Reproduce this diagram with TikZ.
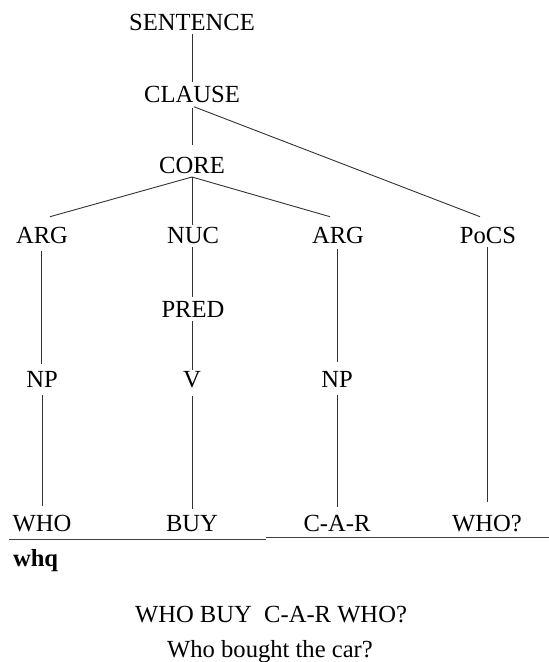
\documentclass[tikz,border=0pt]{standalone}
\usepackage{fontspec}
\setmainfont{Liberation Serif}
\begin{document}
\begin{tikzpicture}[x=1pt,y=-1pt,
  txt/.style={font=\fontsize{24.6}{30}\selectfont, inner sep=0pt, outer sep=0pt},
  cat/.style={txt, inner xsep=0pt, inner ysep=4pt, text height=16.3pt, text depth=0pt, anchor=base},
  branch/.style={line width=0.9pt, draw=black!80},
  rule/.style={line width=0.9pt, draw=black!75}]
\useasboundingbox (0,0) rectangle (549,662);
\fill[white] (0,0) rectangle (549,662);

% layered structure
\node[cat] (sent)   at (192,30)  {SENTENCE};
\node[cat] (clause) at (192,102) {CLAUSE};
\node[cat] (core)   at (192,173) {CORE};
\node[cat] (arga)   at (42,243)  {ARG};
\node[cat] (nuc)    at (193,243) {NUC};
\node[cat] (argb)   at (338,243) {ARG};
\node[cat] (pocs)   at (488,243) {PoCS};
\node[cat] (pred)   at (193,317) {PRED};
\node[cat] (npa)    at (42,387)  {NP};
\node[cat] (verb)   at (192,387) {V};
\node[cat] (npb)    at (337,387) {NP};
\node[cat] (who)    at (42,531.5)  {WHO};
\node[cat] (buy)    at (192,531.5) {BUY};
\node[cat] (car)    at (337,531.5) {C-A-R};
\node[cat] (whoq)   at (487,531.5) {WHO?};

% branches
\draw[branch] (sent.south) -- (clause.north);
\draw[branch, shorten <=2pt, shorten >=8pt] (clause.south) -- (core.north);
\draw[branch, shorten <=2pt] (clause.south) -- ([xshift=-8pt,yshift=6pt]pocs.north);
\draw[branch] (core.south) -- ([xshift=8pt,yshift=6pt]arga.north);
\draw[branch, shorten >=-2pt] (core.south) -- (core.south |- nuc.north);
\draw[branch] (core.south) -- ([xshift=-8pt,yshift=6pt]argb.north);
\draw[branch, shorten <=4pt, shorten >=3pt] ([xshift=-1pt]arga.south) -- ([xshift=-1pt]arga.south |- npa.north);
\draw[branch] ([xshift=-1pt]nuc.south) -- ([xshift=-1pt]nuc.south |- pred.north);
\draw[branch, shorten >=-3pt] ([xshift=-1pt]pred.south) -- ([xshift=-1pt]pred.south |- verb.north);
\draw[branch, shorten <=2pt, shorten >=5pt] ([xshift=-1pt]argb.south) -- ([xshift=-1pt]argb.south |- npb.north);
\draw[branch, shorten >=9pt] ([xshift=-1pt]pocs.south) -- ([xshift=-1pt]pocs.south |- whoq.north);
\draw[branch, shorten <=4pt, shorten >=5pt] (npa.south) -- (npa.south |- who.north);
\draw[branch, shorten <=5pt, shorten >=2pt] (verb.south) -- (verb.south |- buy.north);
\draw[branch, shorten <=4pt, shorten >=4pt] (npb.south) -- (npb.south |- car.north);

% underline of the sign string
\coordinate (ruleA) at (9,539);
\coordinate (ruleB) at (266,539);
\coordinate (ruleC) at (266,537);
\coordinate (ruleD) at (549,537);
\draw[rule] (ruleA) -- (ruleB);
\draw[rule] (ruleC) -- (ruleD);

\node[txt, font=\fontsize{24.6}{30}\selectfont\bfseries, anchor=base west] (whq) at (13,566.5) {whq};

% gloss and translation
\node[txt, anchor=base] (gloss) at (271,622) {WHO BUY\hspace{0.5em}C-A-R WHO?};
\node[txt, anchor=base] (trans) at (270,657) {Who bought the car?};
\end{tikzpicture}
\end{document}
